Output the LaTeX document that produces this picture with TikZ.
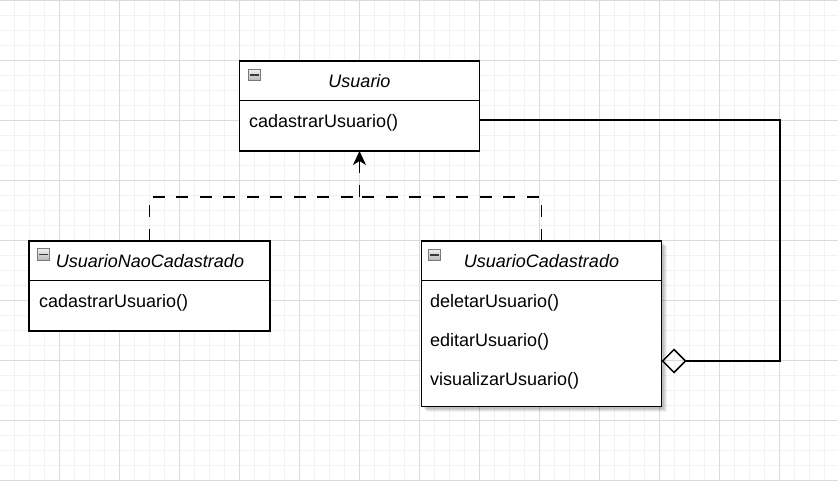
\documentclass[tikz,border=0pt]{standalone}
\usepackage{fontspec}
\setmainfont{Liberation Sans}
\usetikzlibrary{arrows.meta,calc}
\definecolor{gridminor}{HTML}{F2F2F2}
\definecolor{gridmajor}{HTML}{DADADA}
\definecolor{iconborder}{HTML}{7A7A7A}
\definecolor{icontop}{HTML}{EEEEEE}
\definecolor{iconbottom}{HTML}{B8B8B8}
\definecolor{icondark}{HTML}{3A3A3A}
\tikzset{
  classbox/.style={draw=black, fill=white, line width=1.5pt, inner sep=0pt, outer sep=0pt},
  divline/.style={draw=black, line width=1.5pt},
  hdr/.style={font=\fontsize{18}{21}\selectfont\itshape, inner sep=0pt, text=black},
  mtd/.style={font=\fontsize{18}{21}\selectfont, inner sep=0pt, text=black},
  umlicon/.style={draw=iconborder, line width=1pt, top color=icontop, bottom color=iconbottom,
    minimum width=12pt, minimum height=11pt, inner sep=0pt},
  iconminus/.style={draw=icondark, line width=1.8pt},
  conn/.style={draw=black, line width=1.5pt},
  dashconn/.style={conn, dash pattern=on 12pt off 11.5pt},
}
\newcommand\umlminus[2]{%
  \node[umlicon] (#1) at (#2) {};
  \draw[iconminus] ($(#1.center)+(-4.5,0)$) -- ($(#1.center)+(4.5,0)$);
}
\begin{document}
\begin{tikzpicture}[x=1pt,y=-1pt]
\useasboundingbox (0,0) rectangle (838,481);
\fill[white] (0,0) rectangle (838,481);
% grid
\foreach \gx in {14.5,29.5,...,838} \draw[gridminor, line width=1pt] (\gx,0) -- (\gx,481);
\foreach \gy in {15.5,30.5,...,481} \draw[gridminor, line width=1pt] (0,\gy) -- (838,\gy);
\foreach \gx in {59.5,119.5,...,838} \draw[gridmajor, line width=1pt] (\gx,0) -- (\gx,481);
\foreach \gy in {0.5,60.5,...,481} \draw[gridmajor, line width=1pt] (0,\gy) -- (838,\gy);

% shadow of UsuarioCadastrado
\foreach \o/\op in {5/0.05,4/0.06,3/0.08,2/0.08} {
  \fill[black, opacity=\op] (421.5+\o,241+\o) rectangle (661.5+\o,406.5+\o);
}

% Usuario
\node[classbox, minimum width=240pt, minimum height=90pt] (usuario) at (359.5,106) {};
\draw[divline] ($(usuario.north west)+(0,39.5)$) -- ($(usuario.north east)+(0,39.5)$);
\umlminus{usuarioI}{254.5,75}
\node[hdr, anchor=base] (usuarioT) at (359.5,87.3) {Usuario};
\node[mtd, anchor=base west] (usuarioM) at (249,127.3) {cadastrarUsuario()};

% UsuarioNaoCadastrado
\node[classbox, minimum width=241pt, minimum height=90pt] (naocad) at (149.5,286) {};
\draw[divline] ($(naocad.north west)+(0,39.5)$) -- ($(naocad.north east)+(0,39.5)$);
\umlminus{naocadI}{43.5,254.5}
\node[hdr, anchor=base] (naocadT) at (150,267.3) {UsuarioNaoCadastrado};
\node[mtd, anchor=base west] (naocadM) at (39,307.3) {cadastrarUsuario()};

% UsuarioCadastrado
\node[classbox, minimum width=240pt, minimum height=165.5pt] (cad) at (541.5,323.75) {};
\draw[divline] ($(cad.north west)+(0,39.5)$) -- ($(cad.north east)+(0,39.5)$);
\umlminus{cadI}{434.5,255}
\node[hdr, anchor=base] (cadT) at (541.5,267.3) {UsuarioCadastrado};
\node[mtd, anchor=base west] (cadM1) at (430,307.3) {deletarUsuario()};
\node[mtd, anchor=base west] (cadM2) at (430,346.3) {editarUsuario()};
\node[mtd, anchor=base west] (cadM3) at (430,385.7) {visualizarUsuario()};

% realization (dashed)
\coordinate (junc) at (359.5,197);
\draw[dashconn] (naocad.north) |- (junc);
\draw[dashconn] (cad.north) |- (junc);
\draw[dashconn, -{Stealth[length=14pt,width=13pt,inset=4pt]}] (junc) -- (usuario.south);

% aggregation
\coordinate (aggTop) at (780,120);
\coordinate (aggBot) at (780,361);
\draw[conn, -{Diamond[open,length=25pt,width=25pt]}] (usuario.east |- aggTop) -- (aggTop) -- (aggBot) -- (cad.east |- aggBot);
\end{tikzpicture}
\end{document}
